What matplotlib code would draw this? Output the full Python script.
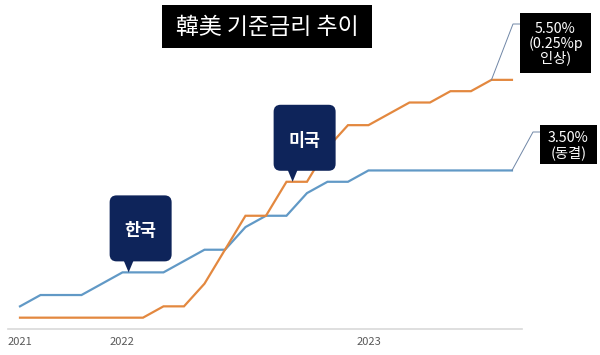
import matplotlib
matplotlib.use("Agg")
import matplotlib.pyplot as plt
from matplotlib.patches import FancyBboxPatch, Polygon, Rectangle
from matplotlib.transforms import Affine2D

plt.rcParams["font.family"] = ["Noto Sans CJK KR", "DejaVu Sans"]

# Data (policy rate, %, one point per step)
korea = [0.50, 0.75, 0.75, 0.75, 1.00, 1.25, 1.25, 1.25, 1.50, 1.75, 1.75, 2.25,
         2.50, 2.50, 3.00, 3.25, 3.25, 3.50, 3.50, 3.50, 3.50, 3.50, 3.50, 3.50, 3.50]
usa = [0.25, 0.25, 0.25, 0.25, 0.25, 0.25, 0.25, 0.50, 0.50, 1.00, 1.75, 2.50,
       2.50, 3.25, 3.25, 4.00, 4.50, 4.50, 4.75, 5.00, 5.00, 5.25, 5.25, 5.50, 5.50]
tick_pos = [0, 5, 17]
tick_labels = ["2021", "2022", "2023"]

title = "韓美 기준금리 추이"
usa_note = "5.50%\n(0.25%p\n인상)"
korea_note = "3.50%\n(동결)"

W, H = 600, 355
BLUE = "#6199c6"
ORANGE = "#e3883f"
NAVY = "#0e245a"

fig = plt.figure(figsize=(W / 100, H / 100), dpi=100)
fig.patch.set_facecolor("white")
ax = fig.add_axes([8 / W, 26 / H, 514 / W, 329 / H])
ax.set_xlim(-0.585, 24.49)
ax.set_ylim(0, 7.263)

x = list(range(len(korea)))
ax.plot(x, korea, color=BLUE, lw=1.6, zorder=3, solid_joinstyle="miter")
ax.plot(x, usa, color=ORANGE, lw=1.6, zorder=3, solid_joinstyle="miter")

for s in ["top", "right", "left"]:
    ax.spines[s].set_visible(False)
ax.spines["bottom"].set_color("#d9d9d9")
ax.spines["bottom"].set_linewidth(1.2)
ax.set_yticks([])
ax.set_xticks(tick_pos)
ax.set_xticklabels(tick_labels, fontsize=8, color="#595959")
ax.tick_params(axis="x", length=0, pad=6)

# pixel coords, origin top-left
pix = Affine2D().scale(1 / W, -1 / H).translate(0, 1) + fig.transFigure


def to_px(xd, yd):
    px, py = ax.transData.transform((xd, yd))
    return px, H - py


# Title
ax.add_patch(Rectangle((162, 5), 210, 43, transform=pix, facecolor="black",
                       edgecolor="none", clip_on=False, zorder=5))
ax.text(267, 27, title, transform=pix, fontsize=16.5, color="white",
        ha="center", va="center", zorder=6)


# Callouts
def callout(label, xd, yd):
    tx, ty = to_px(xd, yd)
    left, top = tx - 19, ty - 77
    ax.add_patch(FancyBboxPatch((left, top), 62, 66, transform=pix,
                                boxstyle="round,pad=0,rounding_size=7",
                                facecolor=NAVY, edgecolor="none",
                                clip_on=False, zorder=5))
    ax.add_patch(Polygon([(tx - 5, ty - 12), (tx + 5, ty - 12), (tx, ty)],
                         closed=True, transform=pix, facecolor=NAVY,
                         edgecolor="none", clip_on=False, zorder=5))
    ax.text(left + 31, top + 36, label, transform=pix, fontsize=12.5,
            fontweight="bold", color="white", ha="center", va="center", zorder=6)


callout("한국", 5.3, korea[5])
callout("미국", 13.3, usa[13])


# End labels with leader lines
def end_label(text, xd, yd, elbow, box):
    sx, sy = to_px(xd, yd)
    bx, by, bw, bh = box
    ax.plot([sx, elbow[0], bx], [sy, elbow[1], elbow[1]], transform=pix,
            color="#6f86a6", lw=0.7, clip_on=False, zorder=4)
    ax.add_patch(Rectangle((bx, by), bw, bh, transform=pix, facecolor="black",
                           edgecolor="none", clip_on=False, zorder=5))
    ax.text(bx + bw / 2, by + bh / 2 + 1, text, transform=pix, fontsize=10.3,
            color="white", ha="center", va="center", linespacing=0.98, zorder=6)


end_label(usa_note, 23, usa[23], (513, 24), (520, 13, 71, 60))
end_label(korea_note, 24, korea[24], (533, 132), (540, 125, 57, 39))

fig.savefig("out.png", dpi=100, facecolor=fig.get_facecolor())
plt.close(fig)
